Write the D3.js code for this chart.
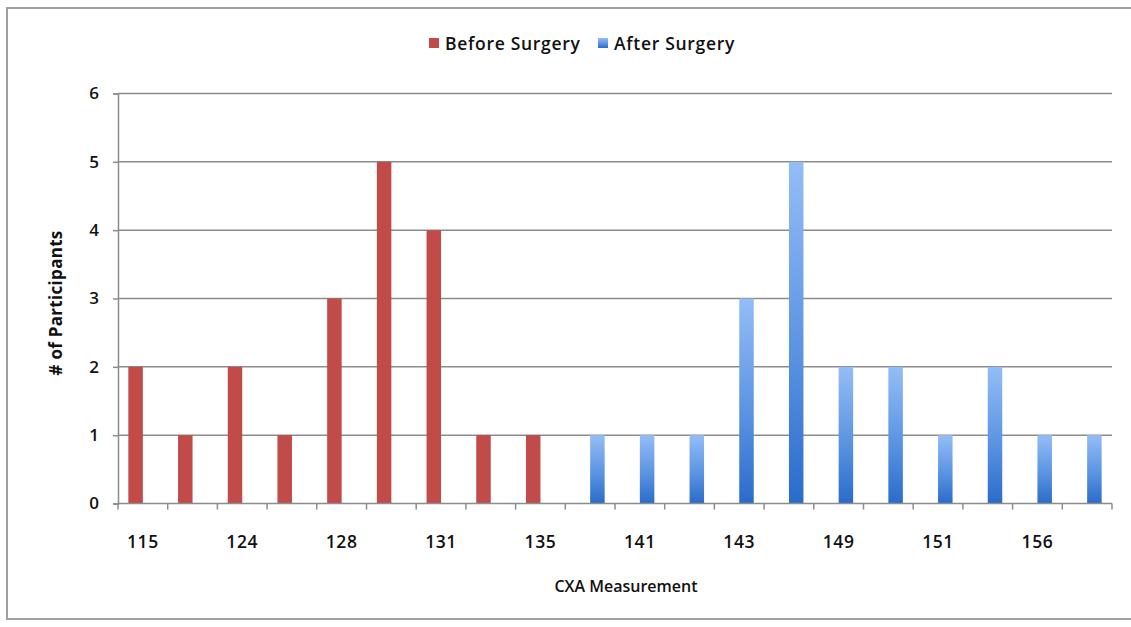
<!DOCTYPE html>
<html>
<head>
<meta charset="utf-8">
<script src="https://cdn.jsdelivr.net/npm/d3@7/dist/d3.min.js"></script>
<style>
  html, body { margin: 0; padding: 0; background: #fff; }
  svg { display: block; }
  text { font-family: "Open Sans", "Liberation Sans", sans-serif; fill: #111; }
</style>
</head>
<body>
<svg id="chart" width="1131" height="627"></svg>
<script>
// CXA measurement bins (only every other bin is labelled on the axis)
const categories = ["115", "120", "124", "126", "128", "130", "131", "133", "135", "138",
                    "141", "142", "143", "146", "149", "150", "151", "153", "156", "158"];
const seriesNames = ["Before Surgery", "After Surgery"];
const beforeSurgery = [2, 1, 2, 1, 3, 5, 4, 1, 1, 0, 0, 0, 0, 0, 0, 0, 0, 0, 0, 0];
const afterSurgery  = [0, 0, 0, 0, 0, 0, 0, 0, 0, 1, 1, 1, 3, 5, 2, 2, 1, 2, 1, 1];
const yTicks = [0, 1, 2, 3, 4, 5, 6];

const svg = d3.select("#chart");
const W = 1131;
const m = { left: 118, right: 1112, top: 93.5, bottom: 503.5 };

// outer frame
svg.append("rect")
  .attr("x", 7).attr("y", 8).attr("width", W).attr("height", 611)
  .attr("fill", "#fff").attr("stroke", "#a0a0a0").attr("stroke-width", 2);

const defs = svg.append("defs");
const grad = defs.append("linearGradient")
  .attr("id", "blueGrad").attr("x1", 0).attr("y1", 0).attr("x2", 0).attr("y2", 1);
grad.append("stop").attr("offset", "0%").attr("stop-color", "#94bdf7");
grad.append("stop").attr("offset", "55%").attr("stop-color", "#5b94e2");
grad.append("stop").attr("offset", "100%").attr("stop-color", "#2a6bcb");

const x = d3.scaleBand().domain(categories).range([m.left, m.right]).paddingInner(0).paddingOuter(0);
const y = d3.scaleLinear().domain([0, 6]).range([m.bottom, m.top]);
const barW = 14.5;

// horizontal gridlines
svg.append("g").selectAll("line").data(yTicks.filter(d => d > 0)).join("line")
  .attr("x1", m.left).attr("x2", m.right)
  .attr("y1", d => y(d)).attr("y2", d => y(d))
  .attr("stroke", "#8c8c8c").attr("stroke-width", 1.5);

// y axis
const yAxis = svg.append("g").attr("transform", `translate(${m.left},0)`)
  .call(d3.axisLeft(y).tickValues(yTicks).tickSize(5).tickPadding(14).tickFormat(d3.format("d")));
yAxis.select(".domain").attr("stroke", "#8c8c8c").attr("stroke-width", 1.5);
yAxis.selectAll(".tick line").attr("stroke", "#8c8c8c").attr("stroke-width", 1.5);
yAxis.selectAll(".tick text").attr("font-size", 17).attr("font-weight", 600)
  .attr("font-family", "'Open Sans', sans-serif").attr("fill", "#111");

// bars
const rows = categories.map((c, i) => ({ c, before: beforeSurgery[i], after: afterSurgery[i] }));
svg.append("g").selectAll("rect").data(rows.filter(d => d.before > 0)).join("rect")
  .attr("x", d => x(d.c) + x.bandwidth() / 2 - barW)
  .attr("width", barW)
  .attr("y", d => y(d.before))
  .attr("height", d => y(0) - y(d.before))
  .attr("fill", "#c04b48");
svg.append("g").selectAll("rect").data(rows.filter(d => d.after > 0)).join("rect")
  .attr("x", d => x(d.c) + x.bandwidth() / 2)
  .attr("width", barW)
  .attr("y", d => y(d.after))
  .attr("height", d => y(0) - y(d.after))
  .attr("fill", "url(#blueGrad)");

// x axis: ticks between categories, labels on every other category
const xAxisG = svg.append("g");
xAxisG.append("line")
  .attr("x1", m.left).attr("x2", m.right).attr("y1", y(0)).attr("y2", y(0))
  .attr("stroke", "#8c8c8c").attr("stroke-width", 1.5);
const boundaries = categories.map(c => x(c)).concat([x(categories[categories.length - 1]) + x.bandwidth()]);
xAxisG.selectAll("line.tk").data(boundaries).join("line").attr("class", "tk")
  .attr("x1", d => d).attr("x2", d => d).attr("y1", y(0)).attr("y2", y(0) + 6)
  .attr("stroke", "#8c8c8c").attr("stroke-width", 1.5);
xAxisG.selectAll("text").data(categories.filter((c, i) => i % 2 === 0)).join("text")
  .attr("x", d => x(d) + x.bandwidth() / 2)
  .attr("y", 548)
  .attr("text-anchor", "middle")
  .attr("font-size", 17.5).attr("font-weight", 600)
  .attr("letter-spacing", 0.6)
  .text(d => d);

// axis titles
svg.append("text").attr("x", 626).attr("y", 592).attr("text-anchor", "middle")
  .attr("font-size", 16).attr("font-weight", 600).text("CXA Measurement");
svg.append("text").attr("transform", "translate(62,303) rotate(-90)")
  .attr("text-anchor", "middle").attr("font-size", 17).attr("font-weight", 700)
  .attr("letter-spacing", 0.3)
  .text("# of Participants");

// legend
const legend = svg.append("g");
const legendItems = [
  { name: seriesNames[0], fill: "#c04b48", x: 429 },
  { name: seriesNames[1], fill: "url(#blueGrad)", x: 598 }
];
legendItems.forEach(it => {
  legend.append("rect").attr("x", it.x).attr("y", 38).attr("width", 10).attr("height", 10).attr("fill", it.fill);
  legend.append("text").attr("x", it.x + 16).attr("y", 50).attr("font-size", 17.5).attr("font-weight", 600)
    .attr("letter-spacing", 0.7).text(it.name);
});
</script>
</body>
</html>
